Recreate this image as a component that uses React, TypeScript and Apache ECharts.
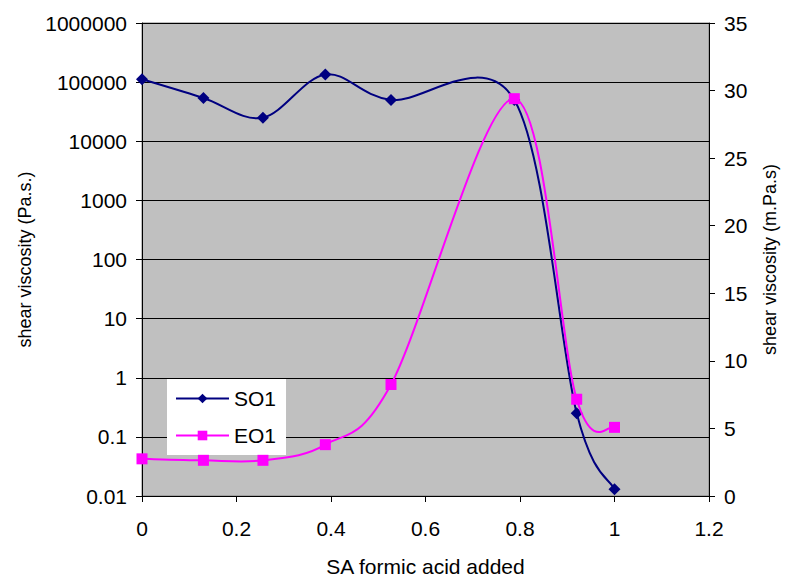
import React, { useEffect, useRef } from "react";
import * as echarts from "echarts";

const xValues = [0, 0.13, 0.256, 0.388, 0.527, 0.788, 0.92, 1.0];
const so1Values = [112000, 54000, 25000, 135000, 50000, 50000, 0.25, 0.013];
const eo1Values = [2.75, 2.64, 2.64, 3.8, 8.25, 29.4, 7.16, 5.08];
const xTicks = { min: 0, max: 1.2, interval: 0.2 };
const rightTicks = { min: 0, max: 35, interval: 5 };
const leftLog = { min: 0.01, max: 1000000 };

const FONT = "'Liberation Sans', Arial, sans-serif";
const W = 787;
const H = 582;

// Excel-style smoothing: bezier control points at p +/- (next - prev) / 6, in pixel space
function smoothSeries(name: string, xs: number[], ys: number[], yAxisIndex: number, color: string, z: number) {
  return {
    name: name + "-curve",
    type: "custom",
    coordinateSystem: "cartesian2d",
    yAxisIndex,
    silent: true,
    z,
    data: xs.map((x, i) => [x, ys[i]]),
    renderItem: (params: any, api: any) => {
      const i = params.dataIndex;
      const n = xs.length;
      if (i >= n - 1) return null;
      const P = (k: number) => {
        const j = Math.max(0, Math.min(n - 1, k));
        return api.coord([xs[j], ys[j]]);
      };
      const p0 = P(i - 1);
      const p1 = P(i);
      const p2 = P(i + 1);
      const p3 = P(i + 2);
      const c1 = [p1[0] + (p2[0] - p0[0]) / 6, p1[1] + (p2[1] - p0[1]) / 6];
      const c2 = [p2[0] - (p3[0] - p1[0]) / 6, p2[1] - (p3[1] - p1[1]) / 6];
      return {
        type: "bezierCurve",
        shape: {
          x1: p1[0], y1: p1[1],
          cpx1: c1[0], cpy1: c1[1],
          cpx2: c2[0], cpy2: c2[1],
          x2: p2[0], y2: p2[1],
        },
        style: { stroke: color, lineWidth: 2, fill: null },
      };
    },
  };
}

export default function App() {
  const ref = useRef<HTMLDivElement>(null);
  useEffect(() => {
    if (!ref.current) return;
    const chart = echarts.init(ref.current, undefined, { renderer: "svg", width: W, height: H });
    const so1 = xValues.map((x, i) => [x, so1Values[i]]);
    const eo1 = xValues.map((x, i) => [x, eo1Values[i]]);
    const txt = { color: "#000", fontFamily: FONT, fontSize: 21 };
    chart.setOption({
      animation: false,
      backgroundColor: "#fff",
      grid: {
        left: 142,
        right: 74,
        top: 23,
        bottom: 81,
        show: true,
        backgroundColor: "#c0c0c0",
        borderColor: "#808080",
        borderWidth: 1,
        containLabel: false,
      },
      legend: {
        orient: "vertical",
        left: 167,
        top: 379,
        backgroundColor: "#fff",
        padding: [9, 10, 9, 8],
        itemWidth: 53,
        itemHeight: 12,
        itemGap: 16,
        textStyle: { ...txt },
        data: [
          { name: "SO1", lineStyle: { color: "#000080", width: 2, opacity: 1 } },
          { name: "EO1", lineStyle: { color: "#ff00ff", width: 2, opacity: 1 } },
        ],
      },
      xAxis: {
        type: "value",
        min: xTicks.min,
        max: xTicks.max,
        interval: xTicks.interval,
        name: "SA formic acid added",
        nameLocation: "middle",
        nameGap: 60,
        nameTextStyle: { ...txt },
        axisLine: { show: true, onZero: false, lineStyle: { color: "#000", width: 1 } },
        axisTick: { show: true, length: 6, lineStyle: { color: "#000" } },
        axisLabel: { ...txt, margin: 22, formatter: (v: number) => String(Number(v.toFixed(2))) },
        splitLine: { show: false },
      },
      yAxis: [
        {
          type: "log",
          logBase: 10,
          min: leftLog.min,
          max: leftLog.max,
          position: "left",
          name: "shear viscosity (Pa.s.)",
          nameLocation: "middle",
          nameRotate: 90,
          nameGap: 108,
          nameTextStyle: { ...txt, fontSize: 18 },
          axisLine: { show: true, lineStyle: { color: "#000", width: 1 } },
          axisTick: { show: true, length: 6, lineStyle: { color: "#000" } },
          axisLabel: {
            ...txt,
            margin: 15,
            formatter: (v: number) => String(Number(v.toPrecision(6))),
          },
          splitLine: { show: true, lineStyle: { color: "#000", width: 1 } },
          minorTick: { show: false },
        },
        {
          type: "value",
          min: rightTicks.min,
          max: rightTicks.max,
          interval: rightTicks.interval,
          position: "right",
          name: "shear viscosity (m.Pa.s)",
          nameLocation: "middle",
          nameRotate: 90,
          nameGap: 52,
          nameTextStyle: { ...txt, fontSize: 18 },
          axisLine: { show: true, lineStyle: { color: "#000", width: 1 } },
          axisTick: { show: true, length: 6, lineStyle: { color: "#000" } },
          axisLabel: { ...txt, margin: 15 },
          splitLine: { show: false },
        },
      ],
      series: [
        smoothSeries("SO1", xValues, so1Values, 0, "#000080", 2),
        smoothSeries("EO1", xValues, eo1Values, 1, "#ff00ff", 4),
        {
          name: "SO1",
          type: "line",
          yAxisIndex: 0,
          data: so1,
          symbol: "diamond",
          symbolSize: 12,
          itemStyle: { color: "#000080" },
          lineStyle: { color: "#000080", width: 2, opacity: 0 },
          z: 3,
        },
        {
          name: "EO1",
          type: "line",
          yAxisIndex: 1,
          data: eo1,
          symbol: "rect",
          symbolSize: 11,
          itemStyle: { color: "#ff00ff" },
          lineStyle: { color: "#ff00ff", width: 2, opacity: 0 },
          z: 5,
        },
      ],
    });
    return () => chart.dispose();
  }, []);
  return <div ref={ref} style={{ width: W, height: H, position: "absolute", left: 0, top: 0 }} />;
}
